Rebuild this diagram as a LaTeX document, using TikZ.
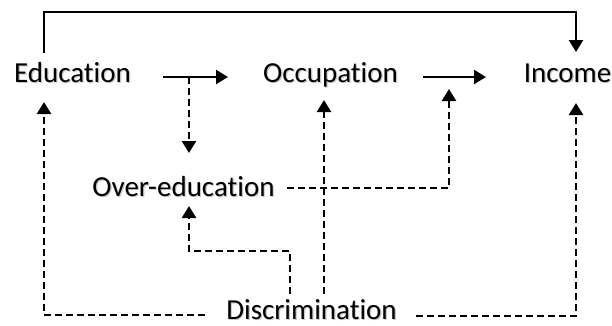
\documentclass[tikz,border=0pt]{standalone}
\usepackage{fontspec}
\setmainfont{Carlito}[Ligatures=NoCommon]
\usetikzlibrary{arrows.meta}
\newcommand\shadowtext[1]{\rlap{\kern1.2pt\raisebox{-1.2pt}{\textcolor{black!22}{#1}}}#1}
\begin{document}
\begin{tikzpicture}[x=1pt,y=-1pt,
  lbl/.style={font=\fontsize{29}{35}\selectfont, anchor=base, inner sep=0pt},
  conn/.style={line width=2.3pt, -{Triangle[length=12pt,width=14pt]}},
  dconn/.style={line width=2.6pt, dash pattern=on 7pt off 4pt, -{Triangle[length=12pt,width=14pt]}}]
\useasboundingbox (0,0) rectangle (612,325);
% nodes
\node[lbl] (edu) at (72.5,82) {\shadowtext{Education}};
\node[lbl] (occ) at (330.5,82) {\shadowtext{Occupation}};
\node[lbl] (inc) at (567.5,82) {\shadowtext{Income}};
\node[lbl] (over) at (183.5,196) {\shadowtext{Over-education}};
\node[lbl] (disc) at (311.5,319) {\shadowtext{Discrimination}};
% coordinates
\coordinate (eA) at (163,77);
\coordinate (eB) at (228,77);
\coordinate (oA) at (423,77);
\coordinate (oB) at (486,77);
\coordinate (topS) at (44,53);
\coordinate (topE) at (576,52);
\coordinate (j1) at (189,77);
\coordinate (overTop) at (189,153);
\coordinate (overBot) at (189,206);
\coordinate (overR) at (287,188);
\coordinate (j2) at (449,89);
\coordinate (eduIn) at (44,102);
\coordinate (occIn) at (324,100);
\coordinate (incIn) at (576,103);
\coordinate (dL) at (205,315);
\coordinate (dR) at (416,316);
\coordinate (dT1) at (290,294);
\coordinate (dT2) at (324,294);
% solid arrows
\draw[conn] (topS) -- (topS |- 0,12) -- (topE |- 0,12) -- (topE);
\draw[conn] (eA) -- (eB);
\draw[conn] (oA) -- (oB);
% dashed
\draw[dconn] (j1) -- (overTop);
\draw[dconn] (overR) -| (j2);
\draw[dconn] (dL) -| (eduIn);
\draw[dconn] (dR) -| (incIn);
\draw[dconn] (dT2) -- (occIn);
\draw[dconn] (dT1) |- (overBot |- 0,251) -- (overBot);
\end{tikzpicture}
\end{document}
